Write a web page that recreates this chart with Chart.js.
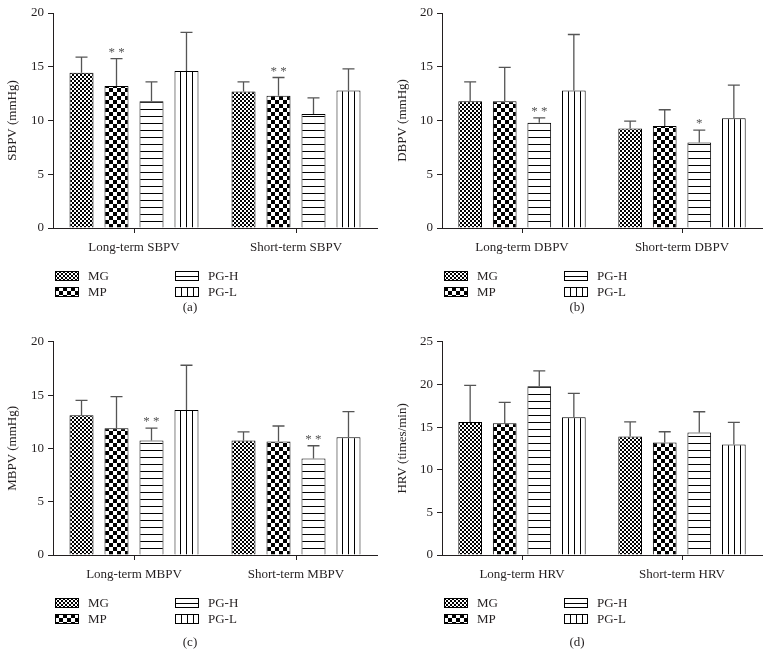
<!DOCTYPE html>
<html lang="en">
<head>
    <meta charset="UTF-8">
    <title>Blood pressure and heart rate variability</title>
    <script src="https://cdn.jsdelivr.net/npm/chart.js"></script>
    <style>
        body { margin: 0; background: #fff; }
        .panel { position: absolute; }
    </style>
</head>
<body>
    <canvas id="chartA" class="panel" width="390" height="330" style="left:0;top:0"></canvas>
    <canvas id="chartB" class="panel" width="385" height="330" style="left:390px;top:0"></canvas>
    <canvas id="chartC" class="panel" width="390" height="340" style="left:0;top:330px"></canvas>
    <canvas id="chartD" class="panel" width="385" height="340" style="left:390px;top:330px"></canvas>

    <script>
        // groups (datasets), in legend order
        const groups = ['MG', 'MP', 'PG-H', 'PG-L'];
        const fills = ['fine', 'coarse', 'hlines', 'vlines'];

        // (a) SBPV - rows are MG, MP, PG-H, PG-L; columns long-term, short-term
        const sbpvLabels = ['Long-term SBPV', 'Short-term SBPV'];
        const sbpvMeans = [[14.45, 12.7], [13.2, 12.3], [11.8, 10.6], [14.6, 12.8]];
        const sbpvSD = [[1.45, 0.9], [2.55, 1.7], [1.8, 1.5], [3.6, 2.0]];
        const sbpvStars = [['', ''], ['**', '**'], ['', ''], ['', '']];

        // (b) DBPV
        const dbpvLabels = ['Long-term DBPV', 'Short-term DBPV'];
        const dbpvMeans = [[11.8, 9.25], [11.8, 9.5], [9.8, 7.95], [12.8, 10.2]];
        const dbpvSD = [[1.8, 0.7], [3.15, 1.5], [0.45, 1.15], [5.2, 3.1]];
        const dbpvStars = [['', ''], ['', ''], ['**', '*'], ['', '']];

        // (c) MBPV
        const mbpvLabels = ['Long-term MBPV', 'Short-term MBPV'];
        const mbpvMeans = [[13.1, 10.75], [11.9, 10.65], [10.75, 9.05], [13.6, 11.05]];
        const mbpvSD = [[1.4, 0.8], [2.95, 1.45], [1.15, 1.2], [4.2, 2.4]];
        const mbpvStars = [['', ''], ['', ''], ['**', '**'], ['', '']];

        // (d) HRV
        const hrvLabels = ['Long-term HRV', 'Short-term HRV'];
        const hrvMeans = [[15.6, 13.9], [15.45, 13.2], [19.8, 14.35], [16.15, 12.95]];
        const hrvSD = [[4.3, 1.7], [2.45, 1.25], [1.8, 2.45], [2.8, 2.6]];
        const hrvStars = [['', ''], ['', ''], ['', ''], ['', '']];

        const ink = '#231f20';
        Chart.defaults.font.family = '"Liberation Serif", "DejaVu Serif", serif';
        Chart.defaults.font.size = 13;
        Chart.defaults.color = ink;

        // small tiles for the hatch fills
        function makePattern(ctx, kind) {
            const t = document.createElement('canvas');
            const c = t.getContext('2d');
            if (kind === 'fine') {
                t.width = 4; t.height = 4;
                c.fillStyle = '#fff'; c.fillRect(0, 0, 4, 4);
                c.fillStyle = '#000'; c.fillRect(0, 0, 2, 2); c.fillRect(2, 2, 2, 2);
            } else if (kind === 'coarse') {
                t.width = 8; t.height = 8;
                c.fillStyle = '#fff'; c.fillRect(0, 0, 8, 8);
                c.fillStyle = '#000'; c.fillRect(0, 0, 4, 4); c.fillRect(4, 4, 4, 4);
            } else if (kind === 'hlines') {
                t.width = 4; t.height = 7;
                c.fillStyle = '#fff'; c.fillRect(0, 0, 4, 7);
                c.fillStyle = '#000'; c.fillRect(0, 0, 4, 1);
            } else {
                t.width = 6; t.height = 4;
                c.fillStyle = '#fff'; c.fillRect(0, 0, 6, 4);
                c.fillStyle = '#000'; c.fillRect(0, 0, 1, 4);
            }
            return ctx.createPattern(t, 'repeat');
        }

        // line the hatch up with each bar's left edge and base
        const alignFills = {
            id: 'alignFills',
            beforeDatasetsDraw(chart) {
                chart.data.datasets.forEach((ds, i) => {
                    chart.getDatasetMeta(i).data.forEach(el => {
                        const p = el.options.backgroundColor;
                        if (p && p.setTransform) {
                            p.setTransform(new DOMMatrix([1, 0, 0, 1, Math.round(el.x - el.width / 2), Math.round(el.base)]));
                        }
                    });
                });
            }
        };

        // upper SD whiskers and significance marks
        const errorBars = {
            id: 'errorBars',
            afterDatasetsDraw(chart) {
                const ctx = chart.ctx;
                const y = chart.scales.y;
                ctx.save();
                chart.data.datasets.forEach((ds, i) => {
                    chart.getDatasetMeta(i).data.forEach((el, j) => {
                        const top = y.getPixelForValue(ds.data[j] + ds.sd[j]);
                        ctx.strokeStyle = '#555';
                        ctx.lineWidth = 1.3;
                        ctx.beginPath();
                        ctx.moveTo(el.x, el.y);
                        ctx.lineTo(el.x, top);
                        ctx.moveTo(el.x - 6, top);
                        ctx.lineTo(el.x + 6, top);
                        ctx.stroke();
                        if (ds.stars[j]) {
                            ctx.fillStyle = '#555';
                            ctx.font = '13px "Liberation Serif", serif';
                            ctx.textAlign = 'center';
                            ctx.textBaseline = 'alphabetic';
                            ctx.fillText(ds.stars[j].split('').join(' '), el.x, top - 3);
                        }
                    });
                });
                ctx.restore();
            }
        };

        // two-column legend and panel caption under the axis
        const legendBlock = {
            id: 'legendBlock',
            afterDraw(chart) {
                const ctx = chart.ctx;
                const a = chart.chartArea;
                const opts = chart.options.plugins.legendBlock;
                const cols = [a.left + 2, a.left + 122];
                const rows = [a.bottom + 48, a.bottom + 64];
                ctx.save();
                groups.forEach((g, i) => {
                    const x = cols[Math.floor(i / 2)];
                    const yMid = rows[i % 2];
                    const top = yMid - 5;
                    const p = makePattern(ctx, fills[i]);
                    const dy = fills[i] === 'hlines' ? top + 5 : top;
                    p.setTransform(new DOMMatrix([1, 0, 0, 1, x, dy]));
                    ctx.fillStyle = p;
                    ctx.fillRect(x, top, 24, 10);
                    ctx.strokeStyle = '#000';
                    ctx.lineWidth = 1;
                    ctx.strokeRect(x + 0.5, top + 0.5, 23, 9);
                    ctx.fillStyle = ink;
                    ctx.font = '13px "Liberation Serif", serif';
                    ctx.textAlign = 'left';
                    ctx.textBaseline = 'middle';
                    ctx.fillText(g, x + 33, yMid + 1);
                });
                ctx.textAlign = 'center';
                ctx.fillText(opts.caption, (a.left + a.right) / 2 - 25, a.bottom + opts.captionGap);
                ctx.restore();
            }
        };

        function buildChart(id, labels, means, sds, stars, yTitle, yMax, box, caption, captionGap) {
            const canvas = document.getElementById(id);
            const W = canvas.width, H = canvas.height;
            return new Chart(canvas, {
                type: 'bar',
                data: {
                    labels: labels,
                    datasets: groups.map((g, i) => ({
                        label: g,
                        data: means[i],
                        sd: sds[i],
                        stars: stars[i],
                        backgroundColor: (c) => makePattern(c.chart.ctx, fills[i]),
                        borderColor: '#000',
                        borderWidth: 1,
                        categoryPercentage: 0.864,
                        barPercentage: 0.686
                    }))
                },
                options: {
                    responsive: false,
                    animation: false,
                    devicePixelRatio: 1,
                    layout: { padding: { left: 0, top: box.top, right: W - box.right, bottom: 0 } },
                    plugins: {
                        legend: { display: false },
                        tooltip: { enabled: false },
                        legendBlock: { caption: caption, captionGap: captionGap }
                    },
                    scales: {
                        x: {
                            grid: { drawOnChartArea: false, offset: false, tickLength: 5, color: ink },
                            border: { color: ink, width: 1 },
                            ticks: { padding: 7, color: ink },
                            afterFit: (s) => { s.height = H - box.bottom; }
                        },
                        y: {
                            min: 0,
                            max: yMax,
                            ticks: { stepSize: 5, padding: 4, color: ink },
                            grid: { drawOnChartArea: false, tickLength: 5, color: ink },
                            border: { color: ink, width: 1 },
                            title: { display: true, text: yTitle, color: ink, padding: { top: 5, bottom: 0 } },
                            afterFit: (s) => { s.width = box.left; }
                        }
                    }
                },
                plugins: [alignFills, errorBars, legendBlock]
            });
        }

        buildChart('chartA', sbpvLabels, sbpvMeans, sbpvSD, sbpvStars, 'SBPV (mmHg)', 20,
            { left: 53, right: 377, top: 13, bottom: 228 }, '(a)', 80);
        buildChart('chartB', dbpvLabels, dbpvMeans, dbpvSD, dbpvStars, 'DBPV (mmHg)', 20,
            { left: 52, right: 372, top: 13, bottom: 228 }, '(b)', 80);
        buildChart('chartC', mbpvLabels, mbpvMeans, mbpvSD, mbpvStars, 'MBPV (mmHg)', 20,
            { left: 53, right: 377, top: 9, bottom: 225 }, '(c)', 88);
        buildChart('chartD', hrvLabels, hrvMeans, hrvSD, hrvStars, 'HRV (times/min)', 25,
            { left: 52, right: 372, top: 9, bottom: 225 }, '(d)', 88);
    </script>
</body>
</html>
